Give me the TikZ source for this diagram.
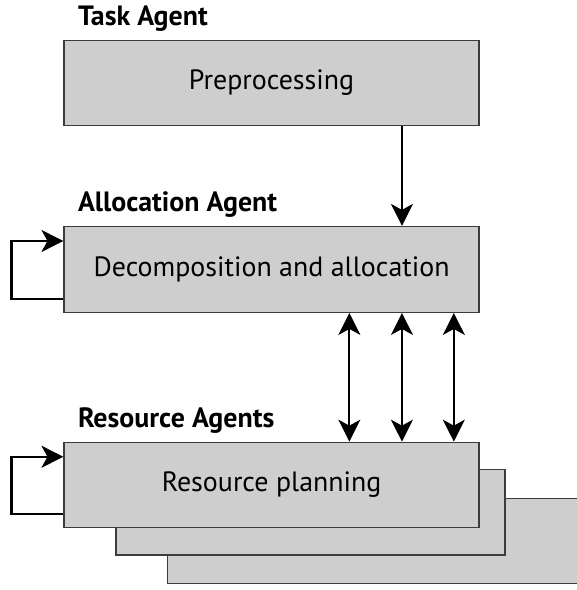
\documentclass[tikz,border=0pt]{standalone}
\usepackage{fontspec}
\setmainfont{PT Sans}
\usepackage{tikz}
\usetikzlibrary{arrows.meta}
\definecolor{boxfill}{RGB}{206,206,206}
\definecolor{boxline}{RGB}{60,60,60}
\tikzset{flowtip/.tip={Stealth[width=22pt,length=22pt,inset=6pt]}}
\tikzset{
  agentbox/.style={shape=rectangle,draw=boxline,line width=1.4pt,fill=boxfill,minimum height=1.18in,minimum width=5.76in,inner sep=0pt,font=\fontsize{28}{32}\selectfont},
  agentlabel/.style={anchor=base west,inner sep=0pt,font=\fontsize{28}{32}\selectfont\bfseries},
  flow/.style={line width=2.2pt}
}

\begin{document}
\begin{tikzpicture}

\useasboundingbox (0in,0in) rectangle (8in,-8.19in);

% resource agents, stacked copies first
\path (5.33in,-7.51in) node (resc) [agentbox,minimum width=6.01in]{};
\path (4.31in,-7.11in) node (resb) [agentbox,minimum width=5.40in,minimum height=1.19in]{};
\path (3.77in,-6.73in) node (res) [agentbox]{Resource planning};

\path (3.77in,-1.15in) node (pre) [agentbox]{Preprocessing};
\path (3.77in,-3.74in) node (dec) [agentbox,minimum height=1.19in]{Decomposition and allocation};

\path (1.08in,-0.36in) node (tasklbl) [agentlabel]{Task Agent};
\path (1.08in,-2.94in) node (alloclbl) [agentlabel]{Allocation Agent};
\path (1.08in,-5.93in) node (reslbl) [agentlabel]{Resource Agents};

\draw [flow,-flowtip] ([xshift=-1.08in]pre.south east) -- ([xshift=-1.08in]dec.north east);

\foreach \dx in {0.36in,1.08in,1.81in}
  \draw [flow,flowtip-flowtip] ([xshift=-\dx]dec.south east) -- ([xshift=-\dx]res.north east);

% self loops
\draw [flow,-flowtip] ([yshift=0.19in]dec.south west) -- ++(-0.72in,0) |- ([yshift=-0.21in]dec.north west);
\draw [flow,-flowtip] ([yshift=0.19in]res.south west) -- ++(-0.72in,0) |- ([yshift=-0.21in]res.north west);

\end{tikzpicture}
\end{document}
